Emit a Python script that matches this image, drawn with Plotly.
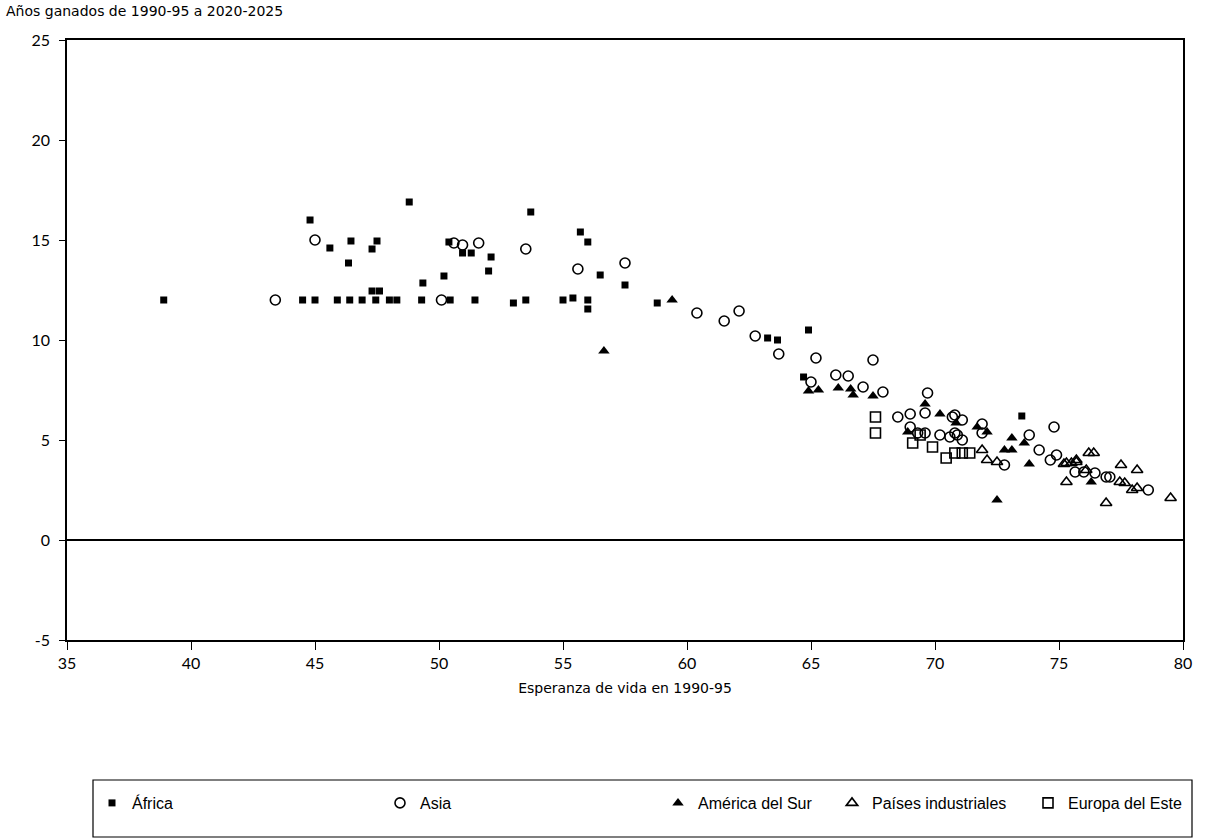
import plotly.graph_objects as go

# ---- data (esperanza de vida 1990-95, años ganados 1990-95 a 2020-2025) ----
africa_x = [38.9, 44.8, 45.6, 46.35, 46.45, 47.5, 47.3, 47.3, 47.6, 48.8, 53.7, 55.7, 56.0,
            49.35, 50.2, 50.4, 50.95, 51.3, 52.1, 52.0, 56.5, 57.5, 58.8, 56.0, 63.25, 63.65,
            64.9, 64.7, 73.5,
            44.5, 45.0, 45.9, 46.4, 46.9, 47.45, 48.0, 48.3, 49.3, 50.45, 51.45, 53.0, 53.5,
            55.0, 55.4, 56.0]
africa_y = [12.0, 16.0, 14.6, 13.85, 14.95, 14.95, 14.55, 12.45, 12.45, 16.9, 16.4, 15.4, 14.9,
            12.85, 13.2, 14.9, 14.35, 14.35, 14.15, 13.45, 13.25, 12.75, 11.85, 11.55, 10.1, 10.0,
            10.5, 8.15, 6.2,
            12.0, 12.0, 12.0, 12.0, 12.0, 12.0, 12.0, 12.0, 12.0, 12.0, 12.0, 11.85, 12.0,
            12.0, 12.1, 12.0]

asia_x = [45.0, 43.4, 50.1, 50.6, 50.95, 51.6, 53.5, 55.6, 57.5, 60.4, 61.5, 62.1, 62.75, 63.7,
          65.2, 65.0, 66.0, 66.5, 67.1, 67.9, 67.5, 69.7, 69.6, 70.7, 68.5, 69.0, 69.0, 69.3,
          69.6, 70.2, 70.6, 70.9, 70.8, 71.1, 71.9, 71.9, 70.8, 71.1, 72.8, 73.8, 74.2, 74.8,
          74.65, 74.9, 75.65, 76.0, 76.45, 76.9, 77.05, 78.6]
asia_y = [15.0, 12.0, 12.0, 14.85, 14.75, 14.85, 14.55, 13.55, 13.85, 11.35, 10.95, 11.45, 10.2, 9.3,
          9.1, 7.9, 8.25, 8.2, 7.65, 7.4, 9.0, 7.35, 6.35, 6.15, 6.15, 6.3, 5.65, 5.35,
          5.35, 5.25, 5.15, 5.25, 6.25, 6.0, 5.8, 5.35, 5.35, 5.0, 3.75, 5.25, 4.5, 5.65,
          4.0, 4.25, 3.4, 3.4, 3.35, 3.15, 3.15, 2.5]

america_x = [59.4, 56.65, 64.9, 65.3, 66.1, 66.6, 66.7, 67.5, 69.6, 70.2, 70.85, 68.9, 71.7,
             72.1, 73.1, 72.8, 73.1, 73.6, 73.8, 72.5, 76.3]
america_y = [12.0, 9.45, 7.45, 7.5, 7.6, 7.55, 7.25, 7.2, 6.8, 6.3, 5.85, 5.4, 5.65,
             5.4, 5.1, 4.5, 4.5, 4.85, 3.8, 2.0, 2.9]

industrial_x = [71.9, 72.1, 72.5, 75.2, 75.3, 75.3, 75.5, 75.7, 76.1, 76.2, 76.4, 77.5,
                78.15, 77.45, 77.65, 77.95, 78.15, 79.5, 76.9, 75.7]
industrial_y = [4.5, 4.0, 3.9, 3.8, 2.9, 3.85, 3.85, 3.9, 3.5, 4.35, 4.35, 3.75,
                3.5, 2.9, 2.85, 2.5, 2.6, 2.1, 1.85, 4.0]

europa_x = [67.6, 67.6, 69.1, 69.4, 69.9, 70.45, 70.8, 71.1, 71.4]
europa_y = [6.15, 5.35, 4.85, 5.25, 4.65, 4.1, 4.35, 4.35, 4.35]

names = ["África", "Asia", "América del Sur", "Países industriales", "Europa del Este"]
x_ticks = [35, 40, 45, 50, 55, 60, 65, 70, 75, 80]
y_ticks = [-5, 0, 5, 10, 15, 20, 25]
y_tick_labels = ["-5", "0", "5", "10", "15", "20", "25"]

W, H = 1208, 840
L, R, T, B = 67, 25, 40, 200
PW, PH = W - L - R, H - T - B

def px_x(p):
    return (p - L) / PW

def px_y(p):
    return (H - B - p) / PH

TICKFONT = dict(family="Lato, Liberation Sans, sans-serif", size=16, color="black")
LEGFONT = dict(family="Liberation Sans, Arial, sans-serif", size=16, color="black")
TXTFONT = dict(family="DejaVu Sans, sans-serif", size=14, color="black")

series = [
    (africa_x, africa_y, dict(symbol="square", size=7, color="black")),
    (asia_x, asia_y, dict(symbol="circle-open", size=10, color="black", line=dict(width=1.6))),
    (america_x, america_y, dict(symbol="triangle-up", size=10, color="black")),
    (industrial_x, industrial_y, dict(symbol="triangle-up-open", size=10, color="black", line=dict(width=1.6))),
    (europa_x, europa_y, dict(symbol="square-open", size=10, color="black", line=dict(width=1.6))),
]
legend_text_px = [132, 420, 698, 872, 1068]

fig = go.Figure()
legends = {}
for i, ((xs, ys, mk), nm) in enumerate(zip(series, names)):
    lg = "legend" if i == 0 else f"legend{i + 1}"
    fig.add_trace(go.Scatter(x=xs, y=ys, mode="markers", name=nm, marker=mk,
                             legend=lg, cliponaxis=False))
    legends[lg] = dict(x=px_x(legend_text_px[i] - 40), xanchor="left",
                       y=px_y(803), yanchor="middle", bgcolor="rgba(0,0,0,0)",
                       font=LEGFONT, borderwidth=0)

fig.update_layout(
    width=W, height=H,
    margin=dict(l=L, r=R, t=T, b=B),
    paper_bgcolor="white", plot_bgcolor="white",
    showlegend=True,
    **legends,
)
fig.update_xaxes(range=[35, 80], tickvals=x_ticks, ticks="outside", ticklen=8, tickwidth=1,
                 tickcolor="black", showline=True, linecolor="black", linewidth=1.5, mirror=True,
                 showgrid=False, zeroline=False, tickfont=TICKFONT,
                 title=dict(text="Esperanza de vida en 1990-95", standoff=12, font=TXTFONT))
fig.update_yaxes(range=[-5, 25], tickvals=y_ticks, ticktext=y_tick_labels, ticks="outside",
                 ticklen=6, tickwidth=1, ticklabelstandoff=6,
                 tickcolor="black", showline=True, linecolor="black", linewidth=1.5, mirror=True,
                 showgrid=False, zeroline=True, zerolinecolor="black", zerolinewidth=1.5,
                 tickfont=TICKFONT)

fig.add_annotation(text="Años ganados de 1990-95 a 2020-2025", xref="paper", yref="paper",
                   x=px_x(4), y=px_y(1), xanchor="left", yanchor="top", showarrow=False,
                   font=TXTFONT)

fig.add_shape(type="rect", xref="paper", yref="paper",
              x0=px_x(93), x1=px_x(1192), y0=px_y(780), y1=px_y(837),
              line=dict(color="black", width=1.2))

fig.write_html("out.html")
